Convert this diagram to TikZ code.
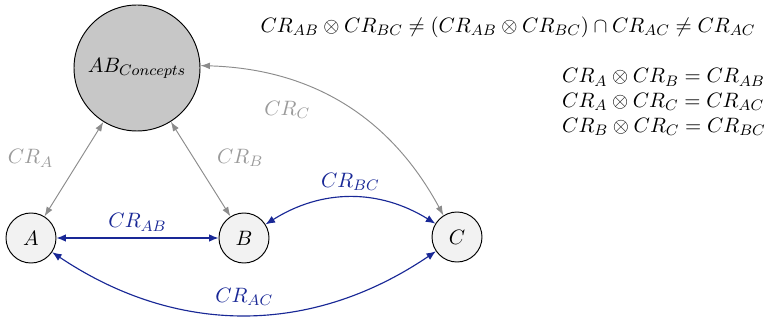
\documentclass[tikz,border=0pt]{standalone}
\usetikzlibrary{arrows.meta,positioning}
\definecolor{crblue}{RGB}{25,40,150}
\definecolor{crgray}{RGB}{140,140,140}
\definecolor{crlabel}{RGB}{155,155,155}
\begin{document}
\begin{tikzpicture}[x=0.0185cm,y=-0.0185cm,font=\fontsize{11}{13}\selectfont,
        concept/.style={circle,draw,line width=0.5pt,fill=black!22,minimum size=2.33cm,inner sep=0pt},
        item/.style={circle,draw,line width=0.5pt,fill=black!5,minimum size=0.925cm,inner sep=0pt},
        rel/.style={crblue,line width=0.6pt,{Latex[length=5pt,width=4pt]}-{Latex[length=5pt,width=4pt]}},
        crel/.style={crgray,line width=0.5pt,{Latex[length=5pt,width=3.5pt]}-{Latex[length=5pt,width=3.5pt]}},
        lbl/.style={text=crlabel}]
        \useasboundingbox (0,0) rectangle (769,321);
        % circles
        \node[concept] (abc) at (137,68) {$AB_{Concepts}$};
        \node[item] (a) at (31,238) {$A$};
        \node[item] (b) at (244,238) {$B$};
        \node[item] (c) at (457,237) {$C$};
        
        % gray
        \draw[crel] (abc) -- node[midway,left=0.26cm,yshift=0.2cm,lbl] {$CR_A$} (a);
        \draw[crel] (abc) -- node[midway,right=0.18cm,yshift=0.2cm,lbl] {$CR_B$} (b);
        \draw[crel] (abc) to[bend left=30] node[midway,left=0.5cm,yshift=-0.1cm,lbl] {$CR_C$} (c);
        
        % blue
        \draw[rel] (a) -- node[above] {$CR_{AB}$} (b);
        \draw[rel] (b) to[bend left=32] node[above] {$CR_{BC}$} (c);
        \draw[rel] (a) to[bend right=34] node[above=1pt] {$CR_{AC}$} (c);
        
        % formulas
        \node (eq) at (508,27) {$CR_{AB}\otimes CR_{BC}\neq(CR_{AB}\otimes CR_{BC})\cap CR_{AC}\neq CR_{AC}$};
        \node[align=left] (rules) at (664,102) {$CR_A\otimes CR_B=CR_{AB}$\\
            $CR_A\otimes CR_C=CR_{AC}$\\
            $CR_B\otimes CR_C=CR_{BC}$};
\end{tikzpicture}
\end{document}
